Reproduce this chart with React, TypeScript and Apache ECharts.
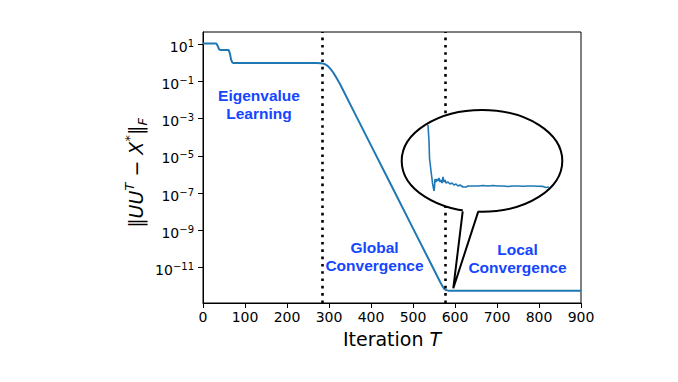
import React, { useEffect, useRef } from "react";
import * as echarts from "echarts";

// ---- data ----
const iterations = [0, 32, 35, 38, 41, 61, 64, 67, 70, 73, 270, 280, 286, 292, 298, 304, 310, 316, 322, 328, 350, 400, 450, 500, 550, 565, 570, 574, 578, 584, 900];
const errors = [10.5, 10.5, 7.9, 5.25, 4.8, 4.8, 3.16, 1.41, 1.0, 0.944, 0.944, 0.923, 0.891, 0.794, 0.631, 0.447, 0.295, 0.178, 0.105, 0.0589, 6.17e-3, 3.63e-5, 2.19e-7, 1.29e-9, 7.76e-12, 1.66e-12, 1.05e-12, 7.41e-13, 6.31e-13, 5.89e-13, 5.89e-13];
const phaseBoundaries = [285, 577];
const xTicks = { min: 0, max: 900, step: 100 };
const yTickExponents = { min: -11, max: 1, step: 2 };
const phaseLabels = ["Eigenvalue\nLearning", "Global\nConvergence", "Local\nConvergence"];
// zoomed inset (local convergence detail), relative units
const insetX = [0, 1, 1.5, 3, 4.5, 6, 6.5, 7, 8, 9, 10, 11, 12, 13, 14, 15, 16, 17, 18, 20, 22, 24, 26, 28, 30, 32, 35, 38, 40, 45, 50, 55, 60, 65, 70, 75, 80, 85, 90, 95, 100, 105, 110, 115, 118, 121];
const insetY = [66, 50, 33, 20, 8, 0, 4, 12, 9, 12, 10, 13, 9, 11, 8, 14, 9, 11, 8, 9, 7, 8, 6, 7, 5, 6, 4, 4, 5, 5, 5, 5.5, 5, 5.5, 5, 5, 4.5, 5, 5, 4.8, 5, 5, 4.8, 4.6, 3.5, 4];

const FONT = "DejaVu Sans";
const BLUE_TXT = "#1445ff";

export default function App() {
  const ref = useRef<HTMLDivElement>(null);
  useEffect(() => {
    if (!ref.current) return;
    const chart = echarts.init(ref.current, null, { renderer: "svg" });
    const gLeft = 203, gWidth = 378, gTop = 32, gBottom = 303;
    const pxPerDec = (267.7 - 44) / 12;
    const maxExp = 1 + (44 - gTop) / pxPerDec;
    const minExp = -11 - (gBottom - 267.7) / pxPerDec;

    const supMinus = (v: number) => (v < 0 ? "\u2212" + -v : String(v));

    const option: any = {
      animation: false,
      backgroundColor: "#fff",
      grid: [
        { left: gLeft, width: gWidth, top: gTop, height: gBottom - gTop, show: true, borderColor: "#000", borderWidth: 1, backgroundColor: "transparent" },
        { left: gLeft, width: gWidth, top: 44, height: 267.7 - 44, show: false },
        { left: 428, width: 121, top: 125, height: 66, show: false },
      ],
      xAxis: [
        {
          gridIndex: 0, type: "value", min: xTicks.min, max: xTicks.max, interval: xTicks.step,
          axisLine: { show: true, lineStyle: { color: "#000", width: 1 } },
          axisTick: { show: true, length: 5, lineStyle: { color: "#000", width: 1 } },
          axisLabel: { color: "#000", fontSize: 14, fontFamily: FONT, margin: 7 },
          splitLine: { show: false },
          name: "{a|Iteration }{b|T}", nameLocation: "middle", nameGap: 26,
          nameTextStyle: { rich: { a: { fontSize: 19, fontFamily: FONT, color: "#000" }, b: { fontSize: 19, fontFamily: FONT, fontStyle: "italic", color: "#000" } } },
        },
        { gridIndex: 1, type: "value", min: 0, max: 1, show: false },
        { gridIndex: 2, type: "value", min: 0, max: 121, show: false },
      ],
      yAxis: [
        {
          gridIndex: 0, type: "log", logBase: 10, min: Math.pow(10, minExp), max: Math.pow(10, maxExp),
          axisLine: { show: true, lineStyle: { color: "#000", width: 1 } },
          axisTick: { show: false }, axisLabel: { show: false }, splitLine: { show: false }, minorTick: { show: false },
        },
        {
          gridIndex: 1, type: "value", min: yTickExponents.min, max: yTickExponents.max, interval: yTickExponents.step,
          axisLine: { show: false },
          axisTick: { show: true, length: 5, lineStyle: { color: "#000", width: 1 } },
          splitLine: { show: false },
          axisLabel: {
            margin: 9, padding: [5, 0, 0, 0],
            formatter: (v: number) => `{b|10}{s|${supMinus(v)}}`,
            rich: {
              b: { fontSize: 14, fontFamily: FONT, color: "#000", lineHeight: 17 },
              s: { fontSize: 10, fontFamily: FONT, color: "#000", lineHeight: 12, verticalAlign: "top" },
            },
          },
        },
        { gridIndex: 2, type: "value", min: 0, max: 66, show: false },
      ],
      series: [
        {
          type: "line", xAxisIndex: 0, yAxisIndex: 0, symbol: "none", showSymbol: false, z: 2,
          lineStyle: { color: "#1f77b4", width: 2 },
          data: iterations.map((x, i) => [x, errors[i]]),
          markLine: {
            silent: true, symbol: ["none", "none"], label: { show: false },
            lineStyle: { color: "#000", type: [2.6, 4.7], width: 2.6, cap: "butt" },
            data: phaseBoundaries.map((b) => ({ xAxis: b })),
          },
        },
        {
          type: "line", xAxisIndex: 2, yAxisIndex: 2, symbol: "none", showSymbol: false, z: 20,
          lineStyle: { color: "#1f77b4", width: 1.6, opacity: 1 },
          data: insetX.map((x, i) => [x, insetY[i]]),
        },
      ],
      graphic: [
        {
          type: "text", x: 136, y: 173, rotation: Math.PI / 2, z: 5,
          style: {
            text: "{n|\u2016}{i|UU}{sup|T}{n| \u2212 }{i|X}{sup|*}{n|\u2016}{sub|F}",
            align: "center", verticalAlign: "middle",
            rich: {
              n: { fontSize: 19, fontFamily: FONT, fill: "#000", lineHeight: 26 },
              i: { fontSize: 19, fontFamily: FONT, fontStyle: "italic", fill: "#000", lineHeight: 26 },
              sup: { fontSize: 13, fontFamily: FONT, fontStyle: "italic", fill: "#000", lineHeight: 13, verticalAlign: "top" },
              sub: { fontSize: 13, fontFamily: FONT, fontStyle: "italic", fill: "#000", lineHeight: 13, verticalAlign: "bottom" },
            },
          },
        },
        ...[[259, 104.5], [374.5, 256.8], [517.5, 258]].map(([x, y], i) => ({
          type: "text", x, y, z: 5,
          style: {
            text: phaseLabels[i], align: "center", verticalAlign: "middle",
            fontSize: 15.5, fontWeight: "bold", fontFamily: "Liberation Sans", fill: BLUE_TXT, lineHeight: 18,
          },
        })),
        {
          type: "ellipse", z: 10, shape: { cx: 482, cy: 160.9, rx: 80.3, ry: 50.9 },
          style: { fill: "#fff", stroke: "#000", lineWidth: 2 },
        },
        {
          type: "polygon", z: 11,
          shape: { points: [[462.7, 211.7], [463.2, 204], [477.8, 204], [478.3, 211.7], [453.3, 288.3]] },
          style: { fill: "#fff", stroke: null },
        },
        { type: "polyline", z: 12, shape: { points: [[462.7, 211.4], [453.3, 288.3], [478.3, 211.4]] }, style: { stroke: "#000", lineWidth: 2, fill: null } },
      ],
    };
    chart.setOption(option);
    return () => chart.dispose();
  }, []);
  return <div ref={ref} style={{ position: "fixed", left: 0, top: 0, width: 678, height: 382 }} />;
}
